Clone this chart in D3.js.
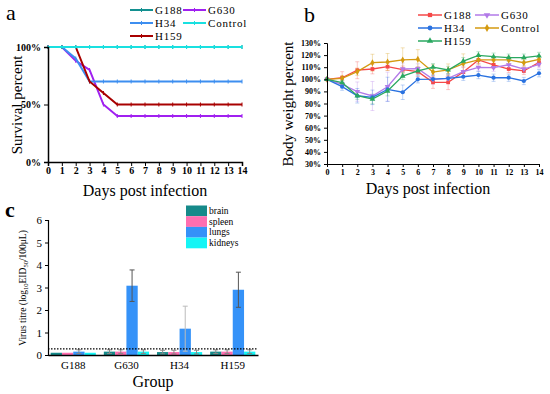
<!DOCTYPE html>
<head>
<meta charset="utf-8">
<style>
body { margin: 0; background: #fff; }
text { font-family: "Liberation Serif", "Times New Roman", serif; }
.tick-b { font-weight: bold; }
</style>
</head>
<body>
<svg width="550" height="394"></svg>
<script src="https://cdn.jsdelivr.net/npm/d3@7"></script>
<script>
// ---- data ----
var days = [0,1,2,3,4,5,6,7,8,9,10,11,12,13,14];

// panel a: survival %
var survNames = ["G188", "G630", "H34", "Control", "H159"];
var survG188 = [100,100,100,100,100,100,100,100,100,100,100,100,100,100,100];
var survG630 = [100,100,88,80,50,40,40,40,40,40,40,40,40,40,40];
var survH34 = [100,100,90,70,70,70,70,70,70,70,70,70,70,70,70];
var survControl = [100,100,100,100,100,100,100,100,100,100,100,100,100,100,100];
var survH159 = [100,100,100,70,60,50,50,50,50,50,50,50,50,50,50];
var survTicks = [0, 50, 100];

// panel b: body weight %
var wtG188 = [100,101.3,107.5,108.5,110.4,108,106.3,97.5,97.5,106,116,112,108.5,106.9,114];
var wtG630 = [100,95.9,89.8,86.2,93.9,108.5,108.8,100,100.8,106.3,109.9,109.6,112,108.5,112.4];
var wtH34 = [100,93.9,86.4,85.1,91.7,89.3,100,100.2,100.8,102.1,103.5,101.3,101.3,98.6,105];
var wtControl = [100,100.8,106.3,113.7,114.3,116,116.5,106,107.7,113,116,116,116,113.7,116.5];
var wtH159 = [100,97.2,86.4,83.7,90.3,102.7,107,110,107.7,115,119.8,118.7,117.9,117.9,119.3];
var sdG188 = [0,5,7,4,3,3,4,5,6,4,3,3,3,3,3];
var sdG630 = [0,3,8,12,12,5,4,4,4,4,3,3,3,3,3];
var sdH34 = [0,3,6,6,10,6,3,3,3,3,3,3,3,3,3];
var sdControl = [0,2,3,7,7,10,8,6,5,8,4,3,3,3,3];
var sdH159 = [0,2,3,4,4,3,3,3,3,3,3,3,3,3,3];
var wtTicks = [30,40,50,60,70,80,90,100,110,120,130];

// panel c: virus titre
var groups = ["G188", "G630", "H34", "H159"];
var organs = ["brain", "spleen", "lungs", "kidneys"];
var titreBrain = [0.1, 0.15, 0.13, 0.15];
var titreSpleen = [0.1, 0.15, 0.13, 0.15];
var titreLungs = [0.15, 3.08, 1.17, 2.9];
var titreKidneys = [0.1, 0.15, 0.13, 0.15];
var errBrain = [0, 0.08, 0.08, 0.08];
var errSpleen = [0, 0.08, 0.08, 0.08];
var errLungs = [0.08, 0.7, 1.0, 0.78];
var errKidneys = [0, 0.08, 0.08, 0.08];
var detectLimit = 0.27;

var svg = d3.select("svg");

// ================= panel a =================
var xa = d3.scaleLinear().domain([0, 14]).range([48, 242]);
var ya = d3.scaleLinear().domain([0, 100]).range([162, 47]);
var ga = svg.append("g");

var survSeries = [
  {name: "G188", vals: survG188, color: "#139090"},
  {name: "G630", vals: survG630, color: "#a020f0"},
  {name: "H34", vals: survH34, color: "#3d8ef0"},
  {name: "Control", vals: survControl, color: "#19e0e0"},
  {name: "H159", vals: survH159, color: "#a80000"}
];
var drawOrder = [0, 1, 2, 4, 3];
var lineA = d3.line().x((d, i) => xa(days[i])).y(d => ya(d));
drawOrder.forEach(function(k) {
  var s = survSeries[k];
  ga.append("path").attr("d", lineA(s.vals))
    .attr("fill", "none").attr("stroke", s.color).attr("stroke-width", 2);
  ga.selectAll(null).data(s.vals).enter().append("line")
    .attr("x1", (d, i) => xa(days[i])).attr("x2", (d, i) => xa(days[i]))
    .attr("y1", d => ya(d) - 2).attr("y2", d => ya(d) + 2)
    .attr("stroke", s.color).attr("stroke-width", 1);
});

ga.append("g").attr("transform", "translate(0,162)")
  .call(d3.axisBottom(xa).tickValues(days).tickSize(4).tickFormat(d3.format("d")))
  .call(g => g.select(".domain").attr("stroke-width", 1.5))
  .call(g => g.selectAll("text").attr("font-family", "Liberation Serif").attr("font-weight", "bold").attr("font-size", 10).attr("dy", "0.5em"));
ga.append("g").attr("transform", "translate(48,0)")
  .call(d3.axisLeft(ya).tickValues(survTicks).tickSize(4).tickFormat(d => d + "%"))
  .call(g => g.select(".domain").attr("stroke-width", 1.5))
  .call(g => g.selectAll("text").attr("font-family", "Liberation Serif").attr("font-weight", "bold").attr("font-size", 10));

ga.append("text").attr("x", 145).attr("y", 196).attr("text-anchor", "middle")
  .attr("font-size", 16).text("Days post infection");
ga.append("text").attr("transform", "translate(22,105) rotate(-90)")
  .attr("text-anchor", "middle").attr("font-size", 15).text("Survival percent");
ga.append("text").attr("x", 6).attr("y", 20).attr("font-size", 22).text("a");

// legend a
var legA = [[130, 10], [183, 10], [130, 23], [183, 23], [130, 36]];
survSeries.forEach(function(s, i) {
  var p = legA[i];
  ga.append("line").attr("x1", p[0]).attr("x2", p[0] + 23).attr("y1", p[1]).attr("y2", p[1])
    .attr("stroke", s.color).attr("stroke-width", 2);
  ga.append("line").attr("x1", p[0] + 11.5).attr("x2", p[0] + 11.5).attr("y1", p[1] - 2).attr("y2", p[1] + 2)
    .attr("stroke", s.color);
  ga.append("text").attr("x", p[0] + 25).attr("y", p[1] + 4).attr("font-size", 11)
    .attr("letter-spacing", 0.8).text(s.name);
});

// ================= panel b =================
var xb = d3.scaleLinear().domain([0, 14]).range([327, 539]);
var yb = d3.scaleLinear().domain([30, 130]).range([164, 43]);
var gb = svg.append("g");

var wtSeries = [
  {name: "G188", vals: wtG188, sd: sdG188, color: "#f54848", shape: d3.symbolSquare},
  {name: "G630", vals: wtG630, sd: sdG630, color: "#b27ae8", shape: d3.symbolTriangle, flip: true},
  {name: "H34", vals: wtH34, sd: sdH34, color: "#2a72e0", shape: d3.symbolCircle},
  {name: "Control", vals: wtControl, sd: sdControl, color: "#d49a10", shape: d3.symbolDiamond},
  {name: "H159", vals: wtH159, sd: sdH159, color: "#2aa860", shape: d3.symbolTriangle}
];

wtSeries.forEach(function(s) {
  gb.selectAll(null).data(s.vals).enter().append("g")
    .attr("stroke", s.color).attr("stroke-opacity", 0.3).attr("stroke-width", 1)
    .each(function(d, i) {
      if (!s.sd[i]) return;
      var g = d3.select(this), x = xb(days[i]);
      g.append("line").attr("x1", x).attr("x2", x).attr("y1", yb(d - s.sd[i])).attr("y2", yb(d + s.sd[i]));
      g.append("line").attr("x1", x - 2).attr("x2", x + 2).attr("y1", yb(d - s.sd[i])).attr("y2", yb(d - s.sd[i]));
      g.append("line").attr("x1", x - 2).attr("x2", x + 2).attr("y1", yb(d + s.sd[i])).attr("y2", yb(d + s.sd[i]));
    });
});
var lineB = d3.line().x((d, i) => xb(days[i])).y(d => yb(d));
wtSeries.forEach(function(s) {
  gb.append("path").attr("d", lineB(s.vals)).attr("fill", "none")
    .attr("stroke", s.color).attr("stroke-width", 1.3);
  gb.selectAll(null).data(s.vals).enter().append("path")
    .attr("d", d3.symbol().type(s.shape).size(14))
    .attr("transform", (d, i) => "translate(" + xb(days[i]) + "," + yb(d) + ")" + (s.flip ? " rotate(180)" : ""))
    .attr("fill", s.color);
});

gb.append("g").attr("transform", "translate(0,164)")
  .call(d3.axisBottom(xb).tickValues(days).tickSize(3).tickFormat(d3.format("d")))
  .call(g => g.selectAll("text").attr("font-family", "Liberation Serif").attr("font-weight", "bold").attr("font-size", 8).attr("dy", "0.6em"));
gb.append("g").attr("transform", "translate(327,0)")
  .call(d3.axisLeft(yb).tickValues(wtTicks).tickSize(3).tickFormat(d => d + "%"))
  .call(g => g.selectAll("text").attr("font-family", "Liberation Serif").attr("font-weight", "bold").attr("font-size", 8));

gb.append("text").attr("x", 428).attr("y", 194).attr("text-anchor", "middle")
  .attr("font-size", 16).text("Days post infection");
gb.append("text").attr("transform", "translate(293,104) rotate(-90)")
  .attr("text-anchor", "middle").attr("font-size", 15).text("Body weight percent");
gb.append("text").attr("x", 304).attr("y", 22).attr("font-size", 22).text("b");

var legB = [[418, 15], [475, 15], [418, 28], [475, 28], [418, 41]];
wtSeries.forEach(function(s, i) {
  var p = legB[i];
  gb.append("line").attr("x1", p[0]).attr("x2", p[0] + 24).attr("y1", p[1]).attr("y2", p[1])
    .attr("stroke", s.color).attr("stroke-width", 1.5);
  gb.append("path").attr("d", d3.symbol().type(s.shape).size(18))
    .attr("transform", "translate(" + (p[0] + 12) + "," + p[1] + ")" + (s.flip ? " rotate(180)" : ""))
    .attr("fill", s.color);
  gb.append("text").attr("x", p[0] + 26).attr("y", p[1] + 4).attr("font-size", 11)
    .attr("letter-spacing", 0.8).text(s.name);
});

// ================= panel c =================
var xc = d3.scaleBand().domain(groups).range([48, 258]).paddingInner(0.15).paddingOuter(0.05);
var xo = d3.scaleBand().domain(organs).range([0, xc.bandwidth()]);
var yc = d3.scaleLinear().domain([0, 6]).range([355, 220]);
var gc = svg.append("g");
var organColor = {brain: "#168a8a", spleen: "#ff6eb0", lungs: "#3592f8", kidneys: "#15f5f5"};
var titre = {brain: titreBrain, spleen: titreSpleen, lungs: titreLungs, kidneys: titreKidneys};
var titreErr = {brain: errBrain, spleen: errSpleen, lungs: errLungs, kidneys: errKidneys};

var rows = [];
groups.forEach(function(gname, gi) {
  organs.forEach(function(o) {
    rows.push({group: gname, organ: o, v: titre[o][gi], e: titreErr[o][gi]});
  });
});

gc.selectAll(".bar").data(rows).enter().append("rect")
  .attr("x", d => xc(d.group) + xo(d.organ))
  .attr("y", d => yc(d.v))
  .attr("width", xo.bandwidth())
  .attr("height", d => yc(0) - yc(d.v))
  .attr("fill", d => organColor[d.organ]);

var errRows = rows.filter(d => d.e > 0);
errRows.forEach(function(d) {
  var cx = xc(d.group) + xo(d.organ) + xo.bandwidth() / 2;
  var c = d.organ === "lungs" && d.v > 1 ? "#555" : "#888";
  gc.append("line").attr("x1", cx).attr("x2", cx).attr("y1", yc(d.v - d.e)).attr("y2", yc(d.v + d.e))
    .attr("stroke", d.group === "H34" && d.organ === "lungs" ? "#bbb" : c).attr("stroke-width", 1);
  [d.v - d.e, d.v + d.e].forEach(function(v) {
    gc.append("line").attr("x1", cx - 2.5).attr("x2", cx + 2.5).attr("y1", yc(v)).attr("y2", yc(v))
      .attr("stroke", d.group === "H34" && d.organ === "lungs" ? "#bbb" : c);
  });
});

gc.append("line").attr("x1", 48).attr("x2", 258).attr("y1", yc(detectLimit)).attr("y2", yc(detectLimit))
  .attr("stroke", "#000").attr("stroke-width", 1.2).attr("stroke-dasharray", "1.5,1.5");

gc.append("g").attr("transform", "translate(0,355)")
  .call(d3.axisBottom(xc).tickSize(0))
  .call(g => g.select(".domain").attr("stroke-width", 1.5))
  .call(g => g.selectAll("text").attr("font-family", "Liberation Serif").attr("font-size", 11).attr("dy", "1em"));
gc.append("g").attr("transform", "translate(48,0)")
  .call(d3.axisLeft(yc).ticks(6).tickSize(3))
  .call(g => g.select(".domain").attr("stroke-width", 1.2))
  .call(g => g.selectAll("text").attr("font-family", "Liberation Sans").attr("font-size", 11));

gc.append("text").attr("x", 153).attr("y", 387).attr("text-anchor", "middle")
  .attr("font-size", 16).text("Group");
var yl = gc.append("text").attr("transform", "translate(26,288) rotate(-90)")
  .attr("text-anchor", "middle").attr("font-size", 9.5);
yl.append("tspan").text("Virus titre (log");
yl.append("tspan").attr("font-size", 6.5).attr("dy", 2).text("10");
yl.append("tspan").attr("dy", -2).text("EID");
yl.append("tspan").attr("font-size", 6.5).attr("dy", 2).text("50");
yl.append("tspan").attr("dy", -2).text("/100μL)");
gc.append("text").attr("x", 5).attr("y", 217).attr("font-size", 22).attr("font-weight", "bold").text("c");

organs.forEach(function(o, i) {
  gc.append("rect").attr("x", 186).attr("y", 205.5 + i * 10.7).attr("width", 21).attr("height", 10.7)
    .attr("fill", organColor[o]);
  gc.append("text").attr("x", 209).attr("y", 214 + i * 10.7).attr("font-size", 9.5).text(o);
});
</script>
</body>
